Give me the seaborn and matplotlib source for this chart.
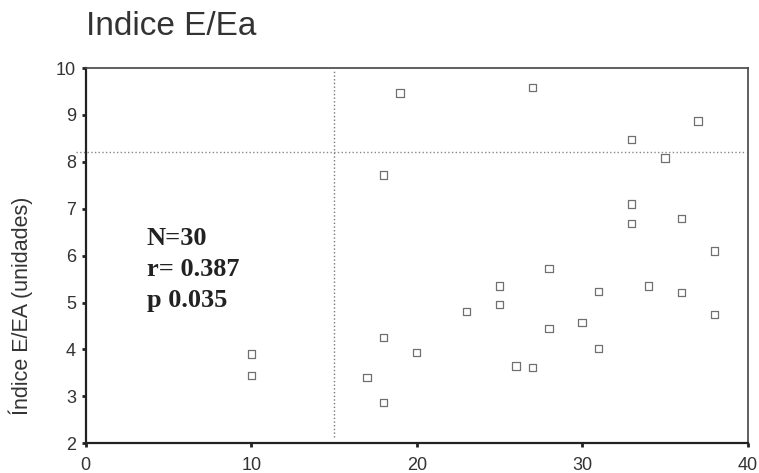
import matplotlib
matplotlib.use("Agg")
import matplotlib.pyplot as plt
import seaborn as sns
import pandas as pd

# Data
edad = [10, 10, 17, 18, 18, 18, 19, 20, 23, 25, 25, 26, 27, 27, 28, 28,
        30, 31, 31, 33, 33, 33, 34, 35, 36, 36, 37, 38, 38]
indice = [3.90, 3.45, 3.40, 2.87, 4.25, 7.72, 9.47, 3.94, 4.81, 5.35, 4.96, 3.65, 3.61, 9.58, 5.72, 4.44,
          4.58, 5.24, 4.02, 8.48, 7.10, 6.68, 5.35, 8.08, 6.79, 5.22, 8.87, 6.10, 4.75]
x_cut = 15
y_cut = 8.22
x_ticks = [0, 10, 20, 30, 40]
y_ticks = [2, 3, 4, 5, 6, 7, 8, 9, 10]
stats_text = ["N=30", "r= 0.387", "p 0.035"]

df = pd.DataFrame({"edad": edad, "indice": indice})

sns.set_style("white")
plt.rcParams['font.family'] = ['Liberation Sans', 'DejaVu Sans']

fig = plt.figure(figsize=(7.59, 4.73), dpi=100)
ax = fig.add_axes([0.113, 0.063, 0.872, 0.793])

sns.scatterplot(data=df, x="edad", y="indice", ax=ax, marker="s", s=28,
                facecolor="none", edgecolor="#707070", linewidth=0.9, legend=False)

ax.set_xlim(0, 40)
ax.set_ylim(2, 10)
ax.set_xticks(x_ticks)
ax.set_yticks(y_ticks)
ax.tick_params(axis="both", left=True, bottom=True, direction="out", length=3, width=2,
               color="#222222", labelsize=13, labelcolor="#333333")
ax.tick_params(axis="x", pad=7)
ax.tick_params(axis="y", pad=4)

# reference lines
ax.plot([x_cut, x_cut], [2.13, 9.96], linestyle=":", color="#777777", linewidth=1.0)
ax.plot([-0.6, 39.9], [y_cut, y_cut], linestyle=":", color="#888888", linewidth=1.0, clip_on=False)

for side in ["left", "bottom"]:
    ax.spines[side].set_color("#222222")
    ax.spines[side].set_linewidth(1.6)
for side in ["top", "right"]:
    ax.spines[side].set_color("#444444")
    ax.spines[side].set_linewidth(1.2)

ax.set_xlabel("")
ax.set_ylabel("Índice E/EA (unidades)", fontsize=15.5, color="#333333")
ax.yaxis.set_label_coords(-0.079, 0.365)

fig.text(0.113, 0.943, "Indice E/Ea", fontsize=24, color="#333333", va="center", ha="left")

for i, t in enumerate(stats_text):
    ax.text(3.7, 6.37 - i * 0.66, t, fontsize=19, fontweight="bold",
            family=["Liberation Serif", "DejaVu Serif"], color="#222222", va="center", ha="left")

ax.set_title("")
fig.savefig("out.png", dpi=100)
